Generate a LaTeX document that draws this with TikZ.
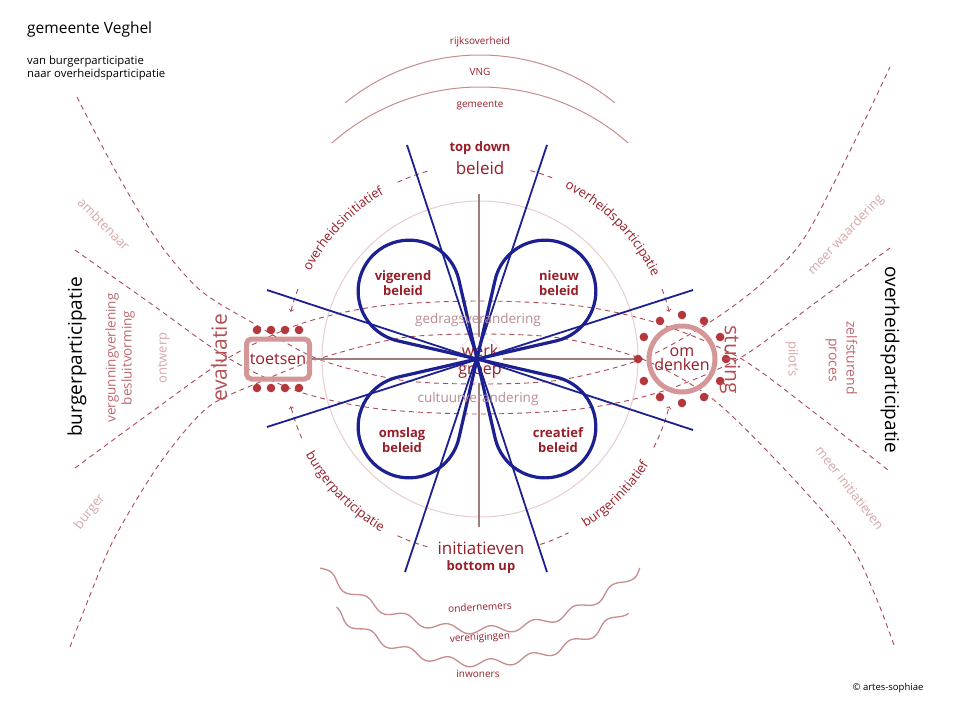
\documentclass[tikz,border=0pt]{standalone}
\usepackage{fontspec}
\setmainfont{Open Sans}
\usetikzlibrary{calc}
\usetikzlibrary{decorations.text}

\definecolor{donkerrood}{RGB}{150,30,40}
\definecolor{roze}{RGB}{170,75,85}
\definecolor{lichtroze}{RGB}{212,150,150}
\definecolor{bleekroze}{RGB}{232,205,205}
\definecolor{zachtroze}{RGB}{200,140,140}
\definecolor{zijroze}{RGB}{190,105,110}
\definecolor{vaalroze}{RGB}{215,168,168}
\definecolor{mauve}{RGB}{185,140,145}
\definecolor{evalrood}{RGB}{180,80,85}
\definecolor{marine}{RGB}{28,32,145}
\definecolor{asgrijs}{RGB}{160,125,125}
\definecolor{stip}{RGB}{180,55,60}

\newcommand{\grootte}[1]{\fontsize{#1}{#1}\selectfont}

\tikzset{
  streep/.style={roze, line width=0.9pt, dash pattern=on 5pt off 4pt},
  straal/.style={marine, line width=1.8pt},
  blad/.style={marine, line width=3.2pt, line join=round},
  golf/.style={zachtroze, line width=1.3pt},
  tekst/.style={donkerrood, inner sep=0pt},
  zijtekst/.style={zijroze, inner sep=0pt},
  vaaltekst/.style={vaalroze, inner sep=0pt},
  bladtekst/.style={donkerrood, inner sep=0pt, align=center, font=\fontsize{13}{15}\selectfont\bfseries},
  boogtekst/.style={decorate, decoration={text along path, text align=center, text={|\grootte{13}\color{donkerrood}|#1}}},
}

\begin{document}
\begin{tikzpicture}[x=1pt,y=1pt]
    \useasboundingbox (0,0) rectangle (960,-720);
    \fill[white] (0,0) rectangle (960,-720);
    \coordinate (C) at (480,-359);
    \coordinate (M) at (477,-359);

    % 标题
    \node[anchor=west, inner sep=0pt] (titel) at (27,-29) {\grootte{15.5}gemeente Veghel};
    \node[anchor=west, inner sep=0pt, align=left, font=\fontsize{11.3}{12.5}\selectfont] (ondertitel) at (27,-68) {van burgerparticipatie\\naar overheidsparticipatie};

    % 上方的弧
    \draw[zachtroze, line width=1pt] ($(480,-269)+(51:214)$) arc[start angle=51, end angle=129, radius=214];
    \draw[zachtroze, line width=1pt] ($(480,-311)+(48.6:224)$) arc[start angle=48.6, end angle=131.4, radius=224];
    \node[tekst] (rijk) at (480,-42) {\grootte{10}rijksoverheid};
    \node[tekst] (vng) at (480,-72) {\grootte{10}VNG};
    \node[tekst] (gemeente) at (480,-105) {\grootte{10}gemeente};

    % 虚线
    \draw[streep] plot[smooth] coordinates {(77,-97) (115,-170) (157,-240) (200,-290) (253,-323) (318,-359) (400,-380) (480,-384) (560,-380) (642,-359) (710,-322) (760,-285) (803,-240) (847,-157) (890,-67)};
    \draw[streep] plot[smooth] coordinates {(70,-647) (92,-590) (115,-537) (160,-463) (207,-408) (260,-382) (318,-359) (400,-338) (480,-334) (560,-338) (642,-359) (710,-397) (773,-457) (847,-540) (875,-595) (895,-648)};
    \draw[streep] plot[smooth] coordinates {(75,-250) (150,-303) (228,-358) (300,-392) (380,-409) (480,-414) (580,-409) (660,-392) (740,-358) (815,-303) (890,-248)};
    \draw[streep] plot[smooth] coordinates {(75,-468) (150,-413) (228,-358) (300,-324) (380,-306) (480,-301) (580,-306) (660,-324) (740,-358) (815,-413) (888,-470)};

    \draw[bleekroze, line width=1pt] (C) circle (158pt);

    % 圆弧与箭头
    \draw[streep,->] ($(C)+(159:195)$) arc[start angle=159, end angle=166, radius=195];
    \draw[streep] ($(C)+(115:195)$) arc[start angle=115, end angle=105, radius=195];
    \path[boogtekst=overheidsinitiatief] ($(C)+(157:191)$) arc[start angle=157, end angle=116, radius=191];
    \draw[streep] ($(C)+(75:195)$) arc[start angle=75, end angle=68, radius=195];
    \draw[streep,->] ($(C)+(21:195)$) arc[start angle=21, end angle=14, radius=195];
    \path[boogtekst=overheidsparticipatie] ($(C)+(67:191)$) arc[start angle=67, end angle=22, radius=191];
    \draw[streep,->] ($(C)+(204:195)$) arc[start angle=204, end angle=194, radius=195];
    \draw[streep] ($(C)+(245:195)$) arc[start angle=245, end angle=255, radius=195];
    \path[boogtekst=burgerparticipatie] ($(C)+(205:199)$) arc[start angle=205, end angle=244, radius=199];
    \draw[streep] ($(C)+(288:195)$) arc[start angle=288, end angle=297, radius=195];
    \draw[streep,->] ($(C)+(333:195)$) arc[start angle=333, end angle=346, radius=195];
    \path[boogtekst=burgerinitiatief] ($(C)+(298:199)$) arc[start angle=298, end angle=332, radius=199];

    % 坐标轴
    \node[draw=lichtroze, line width=5pt, rounded corners=5pt, minimum width=63pt, minimum height=40pt, inner sep=0pt, text=donkerrood] (toetsen) at (278,-359) {\grootte{16}toetsen};
    \node[draw=lichtroze, line width=5pt, circle, minimum size=66pt, inner sep=0pt, align=center, text=donkerrood, font=\fontsize{16}{14}\selectfont] (omdenken) at (682,-359) {om\\denken};
    \coordinate (links) at ($(omdenken.center)+(180:44)$);
    \coordinate (boven) at (479,-194);
    \coordinate (onder) at (479,-527);
    \draw[asgrijs, line width=2pt] (toetsen.east) -- (links);
    \draw[asgrijs, line width=2pt] (boven) -- (onder);
    \foreach \x in {257,271,285,299} {
        \fill[stip] (\x,-330) circle (4.3pt);
        \fill[stip] (\x,-388) circle (4.3pt);
    }
    \foreach \a in {0,30,...,330}
        \fill[stip] ($(omdenken.center)+(\a:44)$) circle (4.3pt);

    \node[circle, fill=white, draw=bleekroze, minimum size=46pt] (wgcirkel) at (480,-360) {};
    \node[tekst, align=center, font=\fontsize{16}{18}\selectfont] (werkgroep) at (480,-361) {werk\\groep};

    % 蓝线
    \draw[straal] (407,-145) -- (547,-572);
    \draw[straal] (547,-145) -- (405,-572);
    \draw[straal] (267,-290) -- (693,-430);
    \draw[straal] (267,-427) -- (693,-290);
    \foreach \r in {45,135,225,315}
        \draw[blad] (M) -- ++({\r-32.1}:81.3) arc[start angle={\r-122.1}, end angle={\r+122.1}, radius=51] -- cycle;

    \node[bladtekst] (vigerend) at (403,-283) {vigerend\\beleid};
    \node[bladtekst] (nieuw) at (559,-283) {nieuw\\beleid};
    \node[bladtekst] (omslag) at (402,-440) {omslag\\beleid};
    \node[bladtekst] (creatief) at (558,-440) {creatief\\beleid};
    \node[inner sep=0pt, text=mauve] (gedrag) at (478,-320) {\grootte{13.5}gedragsverandering};
    \node[inner sep=0pt, text=mauve] (cultuur) at (478,-399) {\grootte{13.5}cultuurverandering};

    \node[tekst, font=\bfseries] (topdown) at (480,-148) {\grootte{13}top down};
    \node[tekst] (beleid) at (480,-168) {\grootte{17}beleid};
    \node[tekst] (initiatieven) at (481,-548) {\grootte{17}initiatieven};
    \node[tekst, font=\bfseries] (bottomup) at (481,-567) {\grootte{13}bottom up};

    \node[rotate=90, inner sep=0pt, text=evalrood] (evaluatie) at (219,-358) {\grootte{21}evaluatie};
    \node[rotate=-90, inner sep=0pt, text=evalrood] (sturing) at (730,-360) {\grootte{21}sturing};

    % 左侧
    \node[rotate=90, inner sep=0pt] (burgerpart) at (77,-357) {\grootte{19}burgerparticipatie};
    \node[rotate=90, zijtekst] (vergunning) at (112,-358) {\grootte{13.5}vergunningverlening};
    \node[rotate=90, zijtekst] (besluit) at (128,-358) {\grootte{13.5}besluitvorming};
    \node[rotate=90, vaaltekst] (ontwerp) at (164,-358) {\grootte{13}ontwerp};
    \node[rotate=-45, vaaltekst] (ambtenaar) at (104,-224) {\grootte{13}ambtenaar};
    \node[rotate=52, vaaltekst] (burger) at (90,-512) {\grootte{13}burger};

    % 右侧
    \node[rotate=-90, inner sep=0pt] (overheidspart) at (890,-360) {\grootte{19}overheidsparticipatie};
    \node[rotate=-90, zijtekst] (zelfsturend) at (852,-358) {\grootte{14}zelfsturend};
    \node[rotate=-90, zijtekst] (proces) at (831,-360) {\grootte{14}proces};
    \node[rotate=-90, vaaltekst] (pilots) at (792,-359) {\grootte{13}pilot's};
    \node[rotate=47, vaaltekst] (waardering) at (846,-235) {\grootte{13}meer waardering};
    \node[rotate=-52, vaaltekst] (meerinit) at (850,-488) {\grootte{13}meer initiatieven};

    % 波浪线
    \draw[golf] plot[domain=227.6:312.4, samples=240, variable=\t] ({480+(237+4*sin(34*\t))*cos(\t)}, {-393+(237+4*sin(34*\t))*sin(\t)});
    \draw[golf] plot[domain=230.2:309.8, samples=240, variable=\t] ({480+(228+4*sin(34*\t))*cos(\t)}, {-435+(228+4*sin(34*\t))*sin(\t)});
    \node[tekst, rotate=3] (ondernemers) at (480,-607) {\grootte{10}ondernemers};
    \node[tekst, rotate=3] (verenigingen) at (480,-638) {\grootte{10}verenigingen};
    \node[tekst] (inwoners) at (478,-674) {\grootte{10}inwoners};

    \node[inner sep=0pt] (copyright) at (888,-688) {\grootte{9.5}© artes-sophiae};
\end{tikzpicture}
\end{document}
